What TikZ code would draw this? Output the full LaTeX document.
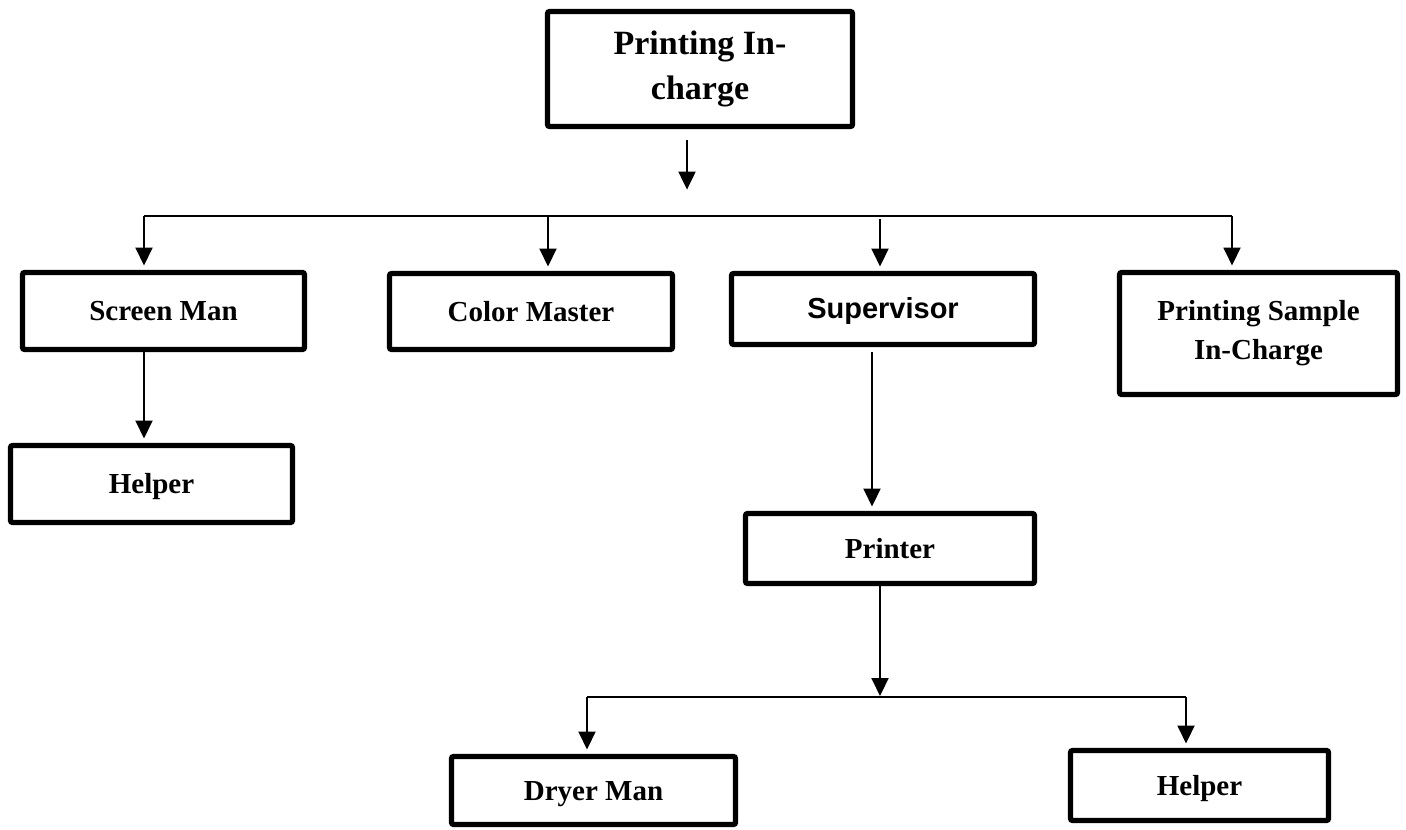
\documentclass[tikz,border=0pt]{standalone}
\usepackage{fontspec}
\setmainfont{Liberation Serif}
\newfontfamily\arialfont{Liberation Sans}
\usetikzlibrary{arrows.meta}
\begin{document}
\begin{tikzpicture}[x=0.5pt,y=-0.5pt,
  box/.style={draw, line width=2.6pt, rounded corners=1pt, inner sep=0pt, align=center,
    font=\bfseries\fontsize{14.5}{19.5}\selectfont},
  one/.style={text height=9.8pt, text depth=0pt},
  arr/.style={line width=1pt, -{Triangle[length=9pt,width=8.5pt]}, shorten >=2.2pt},
  bus/.style={line width=0.9pt}]
\useasboundingbox (0,0) rectangle (1406,829);
% boxes
\node[box, minimum width=152.5pt, minimum height=57.5pt,
  font=\bfseries\fontsize{17}{22.5}\selectfont] (top) at (700,69) {Printing In-\\charge};
\node[box, one, minimum width=141pt, minimum height=38.5pt] (screen) at (163.5,311) {Screen Man};
\node[box, one, minimum width=141pt, minimum height=38.5pt] (helperA) at (151.5,484) {Helper};
\node[box, one, minimum width=141.5pt, minimum height=38pt] (color) at (531,311.5) {Color Master};
\node[box, one, minimum width=151.5pt, minimum height=35.5pt,
  font=\arialfont\bfseries\fontsize{14.5}{19.5}\selectfont] (super) at (883,309) {Supervisor};
\node[box, minimum width=139pt, minimum height=61pt] (sample) at (1258.5,333.5) {Printing Sample\\In-Charge};
\node[box, one, minimum width=144.5pt, minimum height=35pt] (printer) at (890,548.5) {Printer};
\node[box, one, minimum width=142pt, minimum height=34pt] (dryer) at (593.5,790.5) {Dryer Man};
\node[box, one, minimum width=129pt, minimum height=35pt] (helperB) at (1199.5,785.5) {Helper};
% top arrow
\coordinate (t1) at (687,140);
\coordinate (t2) at (687,194);
\draw[arr] (t1) -- (t2);
% first bus
\coordinate (busL) at (144,216);
\coordinate (busC) at (548,216);
\coordinate (busS) at (880,219);
\coordinate (busR) at (1232,216);
\draw[bus] (busL) -- (busR);
\draw[arr] (busL) -- (busL |- screen.north);
\draw[arr] (busC) -- (busC |- color.north);
\draw[arr] (busS) -- (busS |- super.north);
\draw[arr] (busR) -- (busR |- sample.north);
% screen man to helper
\draw[arr] (screen.south -| busL) -- (helperA.north -| busL);
% supervisor to printer
\coordinate (sv) at (872,352);
\draw[arr] (sv) -- (sv |- printer.north);
% printer to second bus
\coordinate (pb) at (880,697);
\draw[arr, shorten >=0.5pt] (printer.south -| pb) -- (pb);
\coordinate (bL) at (587,697);
\coordinate (bR) at (1186,697);
\draw[bus] (bL) -- (bR);
\draw[arr] (bL) -- (bL |- dryer.north);
\draw[arr] (bR) -- (bR |- helperB.north);
\end{tikzpicture}
\end{document}
